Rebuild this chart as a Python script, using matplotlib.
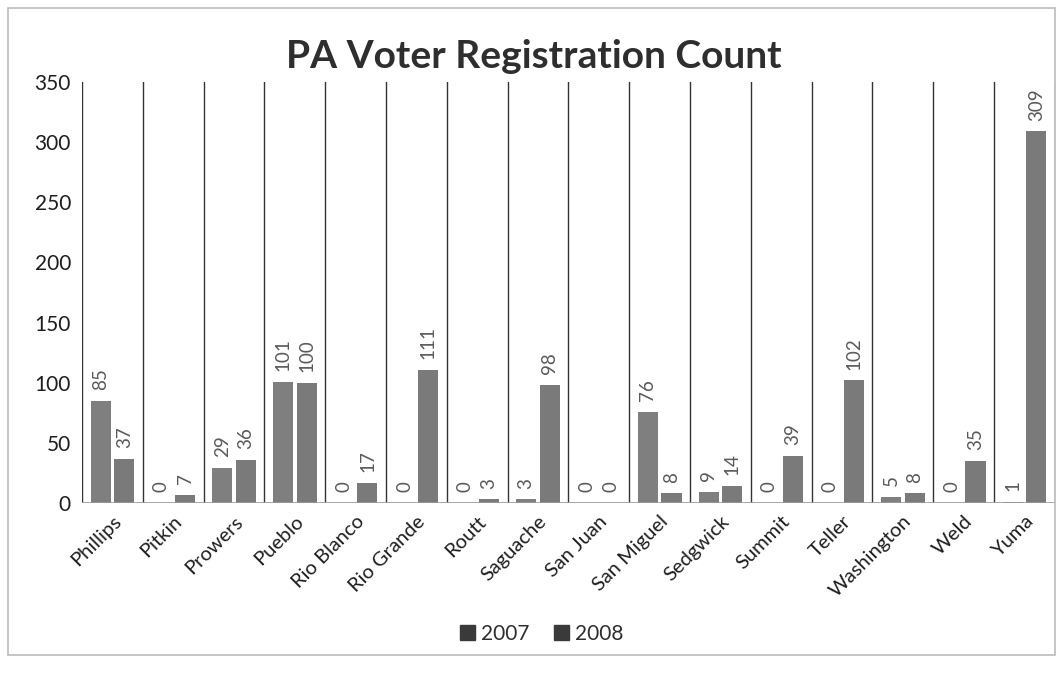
import matplotlib.pyplot as plt
import numpy as np
from matplotlib.patches import Rectangle

# Данные графика
counties = ['Phillips', 'Pitkin', 'Prowers', 'Pueblo', 'Rio Blanco', 'Rio Grande',
            'Routt', 'Saguache', 'San Juan', 'San Miguel', 'Sedgwick', 'Summit',
            'Teller', 'Washington', 'Weld', 'Yuma']
count_2007 = [85, 0, 29, 101, 0, 0, 0, 3, 0, 76, 9, 0, 0, 5, 0, 1]
count_2008 = [37, 7, 36, 100, 17, 111, 3, 98, 0, 8, 14, 39, 102, 8, 35, 309]
y_ticks = [0, 50, 100, 150, 200, 250, 300, 350]

plt.rcParams['font.family'] = ['Lato', 'DejaVu Sans']

fig = plt.figure(figsize=(10.58, 6.73), dpi=100)
ax = fig.add_axes([0.0775, 0.2526, 0.9195, 0.6254])

x = np.arange(len(counties))
bar_w = 0.33
gap = 0.03
bars1 = ax.bar(x - bar_w / 2 - gap, count_2007, bar_w, color='#7f7f7f', label='2007')
bars2 = ax.bar(x + bar_w / 2 + gap, count_2008, bar_w, color='#7a7a7a', label='2008')

# подписи значений
for bars in (bars1, bars2):
    for b in bars:
        v = b.get_height()
        ax.text(b.get_x() + b.get_width() / 2, v + 9, str(int(v)), rotation=90,
                ha='center', va='bottom', fontsize=13.5, color='#5a5a5a')

# вертикальные разделители категорий
for i in range(len(counties) + 1):
    ax.plot([i - 0.5, i - 0.5], [0, 350], color='#333333', lw=1.0, zorder=0)
ax.plot([-0.5, len(counties) - 0.5], [0, 0], color='#9a9a9a', lw=1.2)

ax.set_xlim(-0.5, len(counties) - 0.5)
ax.set_ylim(0, 350)
ax.set_yticks(y_ticks)
ax.set_yticklabels([str(t) for t in y_ticks], fontsize=15, color='#1e1e1e')
ax.set_xticks(x)
ax.set_xticklabels(counties, rotation=45, ha='right', rotation_mode='anchor',
                   fontsize=14.5, color='#1e1e1e')
ax.tick_params(length=0, pad=8)
ax.tick_params(axis='x', pad=7)
for s in ax.spines.values():
    s.set_visible(False)

fig.text(0.505, 0.916, 'PA Voter Registration Count', ha='center', va='center',
         fontsize=28, fontweight='bold', color='#2e2e2e')

fig.legend(handles=[bars1, bars2], labels=['2007', '2008'], loc='center',
           bbox_to_anchor=(0.512, 0.058), ncol=2, frameon=False, fontsize=15,
           handlelength=0.7, handleheight=0.7, handletextpad=0.3, columnspacing=1.2,
           labelcolor='#2e2e2e')
for h in fig.legends[0].legend_handles:
    h.set_color('#3a3a3a')

# рамка вокруг графика
fig.patches.append(Rectangle((8 / 1058, 1 - 655 / 673), 1047 / 1058, 647 / 673,
                             transform=fig.transFigure, fill=False,
                             edgecolor='#bbbbbb', lw=1.2))

fig.savefig('out.png', dpi=100)
